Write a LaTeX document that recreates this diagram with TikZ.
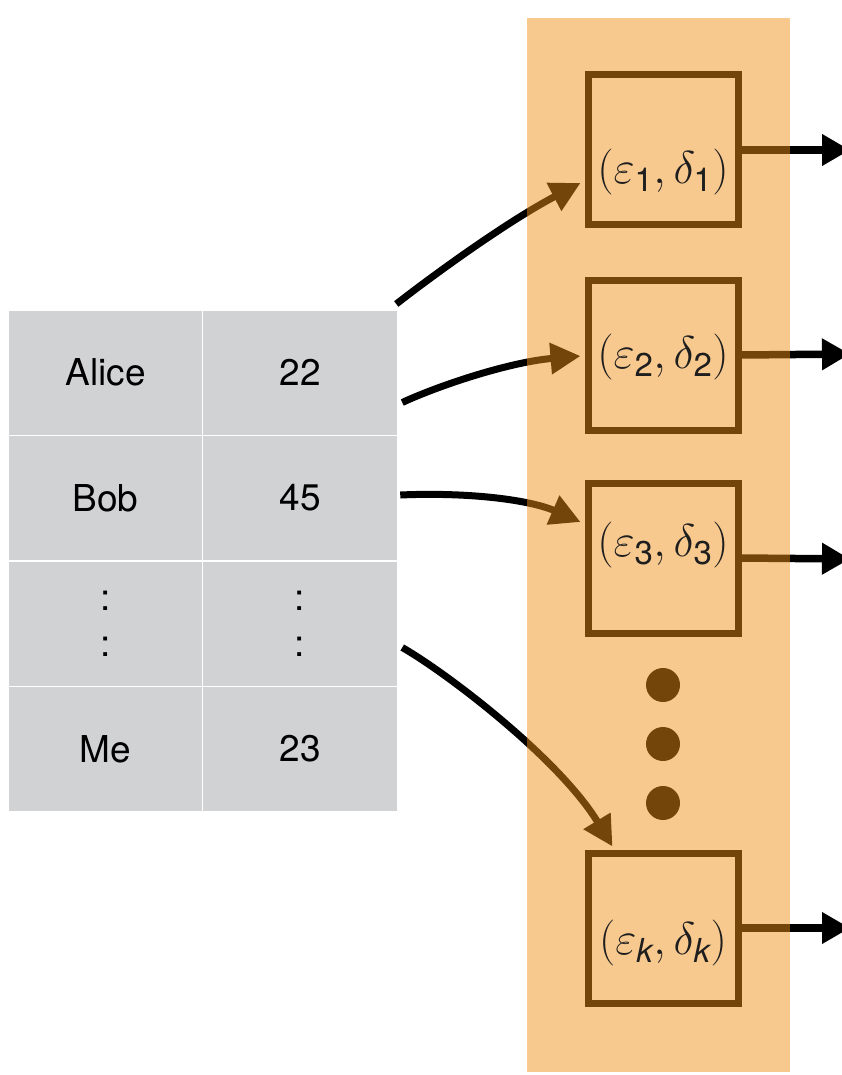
\RequirePackage{fix-cm}
\documentclass[tikz,border=0pt]{standalone}
\usepackage{amsmath}
\usepackage{fontspec}
\setmainfont{TeX Gyre Heros}
\usetikzlibrary{arrows.meta,calc}
\definecolor{panel}{HTML}{F8C98F}
\definecolor{bark}{HTML}{74450B}
\definecolor{cellgrey}{HTML}{D1D2D4}
\definecolor{ink}{HTML}{1E1E1E}

\tikzset{
  cellbox/.style={rectangle, fill=cellgrey, draw=white, line width=1.5pt,
    minimum width=195pt, minimum height=125.5pt, inner sep=0pt,
    font=\fontsize{37}{44}\selectfont, text=black},
  gapbox/.style={cellbox, align=center, font=\fontsize{37}{46}\selectfont},
  budget/.style={rectangle, draw=bark, line width=7pt, fill=panel,
    minimum width=150pt, minimum height=150pt, inner sep=0pt},
  budgettext/.style={inner sep=0pt, font=\fontsize{46}{52}\selectfont, text=ink},
  bigdot/.style={circle, fill=bark, minimum size=34pt, inner sep=0pt},
  link/.style={line width=7pt, -{Triangle[length=30pt,width=30pt]}},
  outlink/.style={line width=7.5pt, -{Triangle[length=28pt,width=30pt]}},
}

% budget label: (epsilon_i, delta_i) with large sans subscripts
\newcommand{\budgetsub}[1]{\mbox{\fontsize{33}{33}\selectfont #1}}
\newcommand{\budgetpair}[1]{$(\varepsilon_{\budgetsub{#1}},\delta_{\budgetsub{#1}})$}

\newcommand{\queryA}{(q1) .. controls (440,270) and (510,220) .. (t1)}
\newcommand{\queryB}{(q2) .. controls (440,385) and (510,362) .. (t2)}
\newcommand{\queryC}{(q3) .. controls (470,492) and (530,500) .. (t3)}
\newcommand{\queryD}{(q4) .. controls (450,675) and (560,760) .. (t4)}

\begin{document}
\begin{tikzpicture}[x=1pt,y=-1pt]
  \useasboundingbox (0,0) rectangle (842,1075);

  % privacy budget panel
  \fill[panel] (527,18) rectangle (790,1072);

  % database table
  \node[cellbox] (c11) at (105.5,372.5) {Alice};
  \node[cellbox] (c12) at (300,372.5) {22};
  \node[cellbox] (c21) at (105.5,498) {Bob};
  \node[cellbox] (c22) at (300,498) {45};
  \node[gapbox] (c31) at (105.5,623.5) {:\\:};
  \node[gapbox] (c32) at (300,623.5) {:\\:};
  \node[cellbox] (c41) at (105.5,749) {Me};
  \node[cellbox] (c42) at (300,749) {23};

  % mechanisms with their budgets
  \node[budget, label={[budgettext, yshift=-22pt]center:\budgetpair{1}}] (e1) at (663,150) {};
  \node[budget, label={[budgettext, yshift=-2pt]center:\budgetpair{2}}] (e2) at (663,355) {};
  \node[budget, label={[budgettext, yshift=13pt]center:\budgetpair{3}}] (e3) at (663,558) {};
  \node[budget, label={[budgettext, yshift=-15pt]center:\budgetpair{\itshape k}}] (ek) at (663,928) {};

  \node[bigdot] (d1) at (663,685) {};
  \node[bigdot] (d2) at (663,744) {};
  \node[bigdot] (d3) at (663,803) {};

  % end points of the query arrows
  \coordinate (q1) at ($(c12.north east)+(-2,-5)$);
  \coordinate (q2) at ($(c12.east)+(4,30)$);
  \coordinate (q3) at ($(c22.east)+(2,-3)$);
  \coordinate (q4) at ($(c32.east)+(4,24)$);
  \coordinate (t1) at ($(e1.west)+(-4,33)$);
  \coordinate (t2) at ($(e2.west)+(-4,1)$);
  \coordinate (t3) at ($(e3.west)+(-4,-36)$);
  \coordinate (t4) at ($(ek.north west)+(28,-3)$);

  % outputs leaving the panel
  \coordinate (o1) at (850,150);
  \coordinate (o2) at (850,354);
  \coordinate (o3) at (850,559);
  \coordinate (o4) at (850,928);

  % query arrows: black outside the panel, brown over it
  \begin{scope}
    \clip (0,0) rectangle (527,1075);
    \draw[link, black] \queryA;
    \draw[link, black] \queryB;
    \draw[link, black] \queryC;
    \draw[link, black] \queryD;
  \end{scope}
  \begin{scope}
    \clip (527,0) rectangle (790,1075);
    \draw[link, bark] \queryA;
    \draw[link, bark] \queryB;
    \draw[link, bark] \queryC;
    \draw[link, bark] \queryD;
    \draw[outlink, bark] (e1.east) -- (o1);
    \draw[outlink, bark] (e2.east) -- (o2);
    \draw[outlink, bark] (e3.east) -- (o3);
    \draw[outlink, bark] (ek.east) -- (o4);
  \end{scope}
  \begin{scope}
    \clip (790,0) rectangle (842,1075);
    \draw[outlink, black] (e1.east) -- (o1);
    \draw[outlink, black] (e2.east) -- (o2);
    \draw[outlink, black] (e3.east) -- (o3);
    \draw[outlink, black] (ek.east) -- (o4);
  \end{scope}
\end{tikzpicture}
\end{document}
